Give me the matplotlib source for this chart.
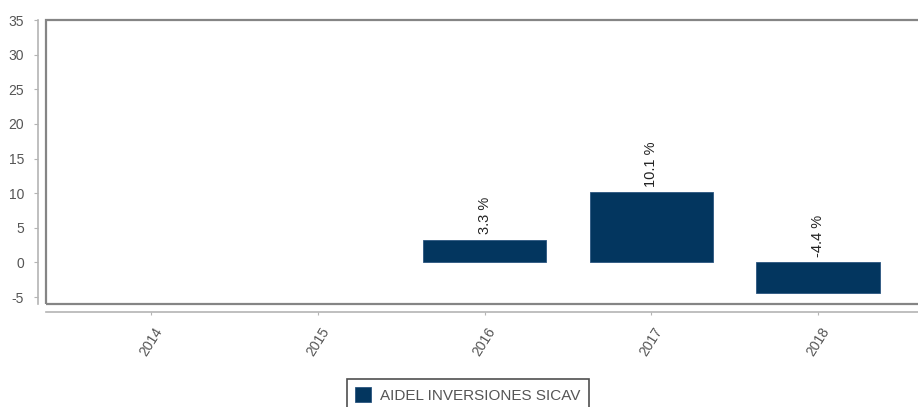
import matplotlib
matplotlib.use('Agg')
import matplotlib.pyplot as plt
from matplotlib.patches import Rectangle

# Yearly return of the fund, % (no data for 2014 and 2015)
years = ['2014', '2015', '2016', '2017', '2018']
returns = [None, None, 3.3, 10.1, -4.4]
series_name = 'AIDEL INVERSIONES SICAV'
y_ticks = [-5, 0, 5, 10, 15, 20, 25, 30, 35]

BAR_COLOR = '#03365f'
TEXT_GREY = '#555555'
FRAME_GREY = '#858585'
AXIS_GREY = '#b4b4b4'

W, H = 918, 407


def px(x0, y0, x1, y1):
    '''pixel box (top-left origin) -> figure fraction rect'''
    return [x0 / W, 1 - y1 / H, (x1 - x0) / W, (y1 - y0) / H]


def main():
    plt.rcParams['font.family'] = ['Liberation Sans', 'DejaVu Sans']
    plt.rcParams['axes.unicode_minus'] = False
    fig = plt.figure(figsize=(W / 100, H / 100), dpi=100)
    fig.patch.set_facecolor('white')

    # plot box runs past the right edge of the image
    ax = fig.add_axes(px(46, 20, 965, 304))
    step = 167.0
    ax.set_xlim(-(151 - 46) / step, 4 + (965 - 818) / step)
    ax.set_ylim(-6.0, 35)

    xs = [i for i, v in enumerate(returns) if v is not None]
    vals = [v for v in returns if v is not None]
    bars = ax.bar(xs, vals, width=0.74, color=BAR_COLOR, edgecolor='#2a5580',
                  linewidth=0.6, label=series_name, zorder=3)
    for x, v in zip(xs, vals):
        ax.annotate('%.1f %%' % v, (x, max(v, 0)), xytext=(0, 4),
                    textcoords='offset points', rotation=90, ha='center',
                    va='bottom', fontsize=10.5, color='#222222')

    # frame around the plotting area
    ax.add_patch(Rectangle((0, 0), 1, 1, transform=ax.transAxes, fill=False,
                           edgecolor=FRAME_GREY, linewidth=1.6, clip_on=False,
                           zorder=5))

    # axes drawn as separate lines offset from the frame (8 px)
    for side in ('top', 'right'):
        ax.spines[side].set_visible(False)
    for side in ('left', 'bottom'):
        ax.spines[side].set_position(('outward', 5.8))
        ax.spines[side].set_color(AXIS_GREY)
        ax.spines[side].set_linewidth(1.2)

    ax.set_yticks(y_ticks)
    ax.set_xticks(range(len(years)))
    ax.set_xticklabels(years, rotation=58, ha='center', va='top')
    ax.tick_params(axis='y', length=3, width=0.8, color=AXIS_GREY,
                   labelsize=10, labelcolor=TEXT_GREY, pad=7)
    ax.tick_params(axis='x', length=2.5, width=0.8, color=AXIS_GREY,
                   labelsize=10, labelcolor=TEXT_GREY, pad=7)

    leg = fig.legend(handles=[bars], labels=[series_name], loc='upper left',
                     bbox_to_anchor=(347 / W, 1 - 379 / H), borderaxespad=0,
                     fontsize=11, frameon=True, fancybox=False,
                     handlelength=1.05, handleheight=1.05, handletextpad=0.55,
                     borderpad=0.55)
    leg.get_frame().set_edgecolor('#222222')
    leg.get_frame().set_linewidth(1.2)
    for t in leg.get_texts():
        t.set_color(TEXT_GREY)

    fig.savefig('out.png', dpi=100)


if __name__ == '__main__':
    main()
